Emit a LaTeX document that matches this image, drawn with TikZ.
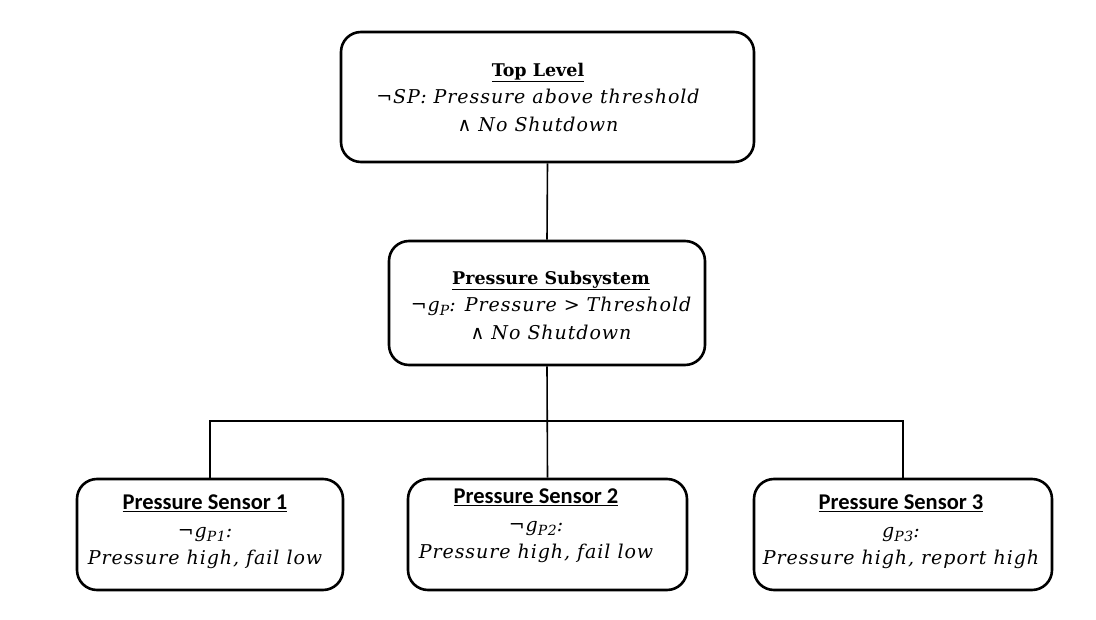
\documentclass[tikz,border=0pt]{standalone}
\usepackage{fontspec}
\setmainfont{DejaVu Serif}
\newfontfamily\sensfont{Carlito}
\newfontfamily\mitfont{DejaVu Serif}[LetterSpace=5]
\newcommand\mi[1]{{\mitfont\itshape\fontsize{19}{27.5}\selectfont #1}}
\newcommand\mysub[1]{\raisebox{-0.4ex}{\fontsize{14}{14}\selectfont #1}}
\begin{document}
\begin{tikzpicture}[x=1pt,y=-1pt,
  box/.style={draw, line width=2.6pt, rounded corners=20pt, inner sep=0pt},
  link/.style={line width=1.6pt},
  txt/.style={align=center, inner sep=0pt, font=\fontsize{17.5}{27.5}\selectfont}]
\path[use as bounding box] (0,0) rectangle (1096,620);
\node[box, minimum width=413pt, minimum height=130pt] (top) at (547.5,97) {};
\node[box, minimum width=316pt, minimum height=124pt] (mid) at (547,303) {};
\node[box, minimum width=266pt, minimum height=111pt] (s1) at (210,534.5) {};
\node[box, minimum width=279pt, minimum height=111pt] (s2) at (547.5,534.5) {};
\node[box, minimum width=298pt, minimum height=111pt] (s3) at (903,534.5) {};
\coordinate (bus) at (547.5,421);
\draw[link] (top.south) -- (mid.north);
\draw[link] (mid.south) -- (s2.north);
\draw[link] (s1.north) |- (bus) -| (s3.north);
\node[txt] (ttop) at (538,97) {\textbf{\underline{Top Level}}\\ \mi{¬SP: Pressure above threshold}\\ \mi{∧ No Shutdown}};
\node[txt] (tmid) at (551,305) {\textbf{\underline{Pressure Subsystem}}\\ \mi{¬g\mysub{P}: Pressure > Threshold}\\ \mi{∧ No Shutdown}};
\node[txt] (ts1) at (205,532) {{\sensfont\fontsize{22.5}{27.5}\selectfont\bfseries\underline{Pressure Sensor 1}}\\ \mi{¬g\mysub{P1}:}\\ \mi{Pressure high, fail low}};
\node[txt] (ts2) at (536,526) {{\sensfont\fontsize{22.5}{27.5}\selectfont\bfseries\underline{Pressure Sensor 2}}\\ \mi{¬g\mysub{P2}:}\\ \mi{Pressure high, fail low}};
\node[txt] (ts3) at (901,532) {{\sensfont\fontsize{22.5}{27.5}\selectfont\bfseries\underline{Pressure Sensor 3}}\\ \mi{g\mysub{P3}:}\\ \mi{Pressure high, report high}};
\end{tikzpicture}
\end{document}
